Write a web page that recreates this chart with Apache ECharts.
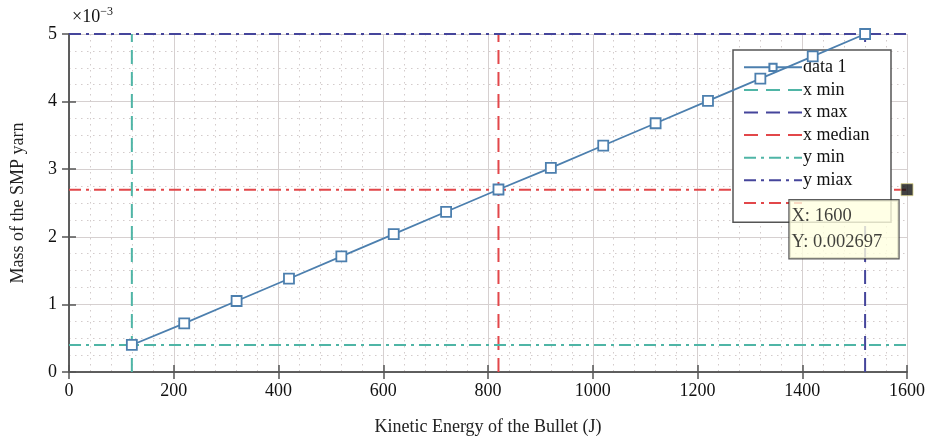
<!DOCTYPE html>
<html>
<head>
<meta charset="utf-8">
<script src="https://cdn.jsdelivr.net/npm/echarts@6/dist/echarts.min.js"></script>
<style>
  html, body { margin: 0; padding: 0; background: #fff; }
  #chart { width: 930px; height: 441px; }
</style>
</head>
<body>
<div id="chart"></div>
<script>
// kinetic energy (J) and mass (x10^-3)
var energy = [120, 220, 320, 420, 520, 620, 720, 820, 920, 1020, 1120, 1220, 1320, 1420, 1520];
var mass = [0.40, 0.72, 1.05, 1.38, 1.71, 2.04, 2.37, 2.70, 3.02, 3.35, 3.68, 4.01, 4.34, 4.67, 5.00];

var xMin = 120, xMax = 1520, xMedian = 820;
var yMin = 0.40, yMax = 5.00, yMedian = 2.697;
var tipPoint = [1600, 2.697];

var xRange = [0, 1600];
var yRange = [0, 5];

var legendNames = ['data 1', 'x min', 'x max', 'x median', 'y min', 'y miax', ' '];

var serif = 'Liberation Serif';
var teal = '#4fb5a6', navy = '#45459b', red = '#e2474a', blue = '#4c7fae';

function vline(x) { return [[x, yRange[0]], [x, yRange[1]]]; }
function hline(y) { return [[xRange[0], y], [xRange[1], y]]; }

function refSeries(name, data, color, type) {
  return {
    name: name, type: 'line', data: data, symbol: 'none', silent: true,
    lineStyle: { color: color, width: 2, type: type },
    itemStyle: { color: color }
  };
}

var dashed = [14, 8];
var dashDot = [12, 5, 3, 5];

var myChart = echarts.init(document.getElementById('chart'));
var option = {
  animation: false,
  textStyle: { fontFamily: serif },
  grid: { left: 69, right: 23, top: 34, bottom: 66 },
  legend: {
    orient: 'vertical', left: 733, top: 50,
    backgroundColor: '#fff', borderColor: '#555', borderWidth: 1.5,
    padding: [6, 10, 8, 10], itemWidth: 58, itemHeight: 9, itemGap: 0,
    textStyle: { fontFamily: serif, fontSize: 18, color: '#111', lineHeight: 22.6, width: 78, padding: [0, 0, 0, -4] },
    data: legendNames.map(function (n, i) {
      return i === 0 ? { name: n } : { name: n, itemStyle: { opacity: 0 } };
    })
  },
  xAxis: [{
    type: 'value', min: xRange[0], max: xRange[1], interval: 200,
    name: 'Kinetic Energy of the Bullet (J)', nameLocation: 'middle', nameGap: 46,
    nameTextStyle: { fontFamily: serif, fontSize: 18, color: '#222' },
    axisLine: { show: true, lineStyle: { color: '#555', width: 1.5 } },
    axisTick: { show: true, inside: true, length: 7, lineStyle: { color: '#555', width: 1.5 } },
    minorTick: { show: false, splitNumber: 5 },
    axisLabel: { fontFamily: serif, fontSize: 18, color: '#111', margin: 10, formatter: function (v) { return String(v); } },
    splitLine: { show: true, lineStyle: { color: '#d6d0d0', width: 1 } },
    minorSplitLine: { show: true, lineStyle: { color: '#d3cbcb', type: [1.5, 4.5], width: 1 } }
  }, {
    type: 'value', position: 'top', min: xRange[0], max: xRange[1], interval: 200,
    axisLine: { show: true, lineStyle: { color: '#555', width: 1.5 } },
    axisTick: { show: true, inside: true, length: 7, lineStyle: { color: '#555', width: 1.5 } },
    axisLabel: { show: false }, splitLine: { show: false }
  }],
  yAxis: [{
    type: 'value', min: yRange[0], max: yRange[1], interval: 1,
    name: 'Mass of the SMP yarn', nameLocation: 'middle', nameGap: 42,
    nameTextStyle: { fontFamily: serif, fontSize: 18, color: '#222' },
    axisLine: { show: true, lineStyle: { color: '#555', width: 1.5 } },
    axisTick: { show: true, inside: true, length: 7, lineStyle: { color: '#555', width: 1.5 } },
    minorTick: { show: false, splitNumber: 4 },
    axisLabel: { fontFamily: serif, fontSize: 18, color: '#111', margin: 12 },
    splitLine: { show: true, lineStyle: { color: '#d6d0d0', width: 1 } },
    minorSplitLine: { show: true, lineStyle: { color: '#d3cbcb', type: [1.5, 4.5], width: 1 } }
  }, {
    type: 'value', position: 'right', min: yRange[0], max: yRange[1], interval: 1,
    axisLine: { show: true, lineStyle: { color: '#555', width: 1.5 } },
    axisTick: { show: true, inside: true, length: 7, lineStyle: { color: '#555', width: 1.5 } },
    axisLabel: { show: false }, splitLine: { show: false }
  }],
  graphic: [{
    type: 'text', left: 72, top: 6,
    style: {
      text: '{a|×10}{b|−3}',
      rich: {
        a: { fontFamily: serif, fontSize: 18, fill: '#111', verticalAlign: 'bottom' },
        b: { fontFamily: serif, fontSize: 12, fill: '#111', verticalAlign: 'top', padding: [0, 0, 8, 0] }
      }
    }
  }],
  series: [
    refSeries(legendNames[1], vline(xMin), teal, dashed),
    refSeries(legendNames[2], vline(xMax), navy, dashed),
    refSeries(legendNames[3], vline(xMedian), red, dashed),
    refSeries(legendNames[4], hline(yMin), teal, dashDot),
    refSeries(legendNames[5], hline(yMax), navy, dashDot),
    refSeries(legendNames[6], hline(yMedian), red, dashDot),
    {
      name: legendNames[0], type: 'line', z: 5,
      data: energy.map(function (e, i) { return [e, mass[i]]; }),
      symbol: 'rect', symbolSize: 10,
      lineStyle: { color: blue, width: 1.8 },
      itemStyle: { color: '#fff', borderColor: blue, borderWidth: 1.8 }
    },
    {
      type: 'scatter', z: 10, clip: false, silent: true,
      data: [tipPoint], symbol: 'rect', symbolSize: 12,
      itemStyle: { color: '#111', borderColor: '#d9d38a', borderWidth: 1 },
      label: {
        show: true, position: [-111, 17],
        formatter: function (p) {
          return 'X: ' + p.value[0] + '\nY: ' + (p.value[1] / 1000).toFixed(6);
        },
        fontFamily: serif, fontSize: 18.5, color: '#111', lineHeight: 26,
        backgroundColor: '#ffffe0', borderColor: '#333', borderWidth: 1.2,
        padding: [3, 4, 3, 2], width: 103, align: 'left'
      }
    }
  ]
};
myChart.setOption(option);
</script>
</body>
</html>
